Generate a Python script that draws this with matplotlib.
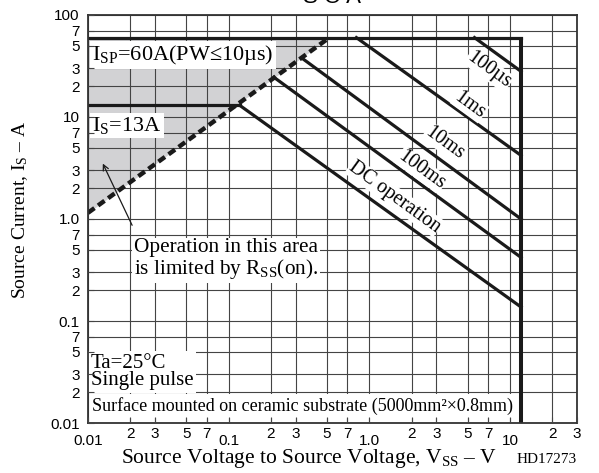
import matplotlib
matplotlib.use("Agg")
import matplotlib.pyplot as plt
from matplotlib.ticker import FixedLocator, FixedFormatter

plt.rcParams["font.family"] = ["Liberation Serif", "DejaVu Serif"]
plt.rcParams["mathtext.fontset"] = "custom"
plt.rcParams["mathtext.rm"] = "Liberation Serif"
plt.rcParams["mathtext.it"] = "Liberation Serif"

# axis ticks
x_major = [0.01, 0.1, 1.0, 10]
x_major_lbl = ["0.01", "0.1", "1.0", "10"]
x_minor = [0.02, 0.03, 0.05, 0.07, 0.2, 0.3, 0.5, 0.7,
           2, 3, 5, 7, 20, 30]
x_minor_lbl = ["2", "3", "5", "7"] * 3 + ["2", "3"]
y_major = [0.01, 0.1, 1.0, 10, 100]
y_major_lbl = ["0.01", "0.1", "1.0", "10", "100"]
y_minor = [0.02, 0.03, 0.05, 0.07, 0.2, 0.3, 0.5, 0.7,
           2, 3, 5, 7, 20, 30, 50, 70]
y_minor_lbl = ["2", "3", "5", "7"] * 4

# limits of the SOA
vss_max = 12
isp = 60
is_dc = 13
rds_v = [0.01, 0.52]
rds_i = [1.15, 60]

# pulse lines: start on the limit, end at vss_max
pulse_names = ["100µs", "1ms", "10ms", "100ms", "DC operation"]
pulse_v = [[5.6, 12], [0.81, 12], [0.33, 12], [0.21, 12], [0.12, 12]]
pulse_i = [[60, 28], [60, 4.2], [38, 1.0], [24.5, 0.42], [13, 0.137]]

fig = plt.figure(figsize=(5.99, 4.73), dpi=100)
ax = fig.add_axes([0.1469, 0.1057, 0.8164, 0.8626])
ax.set_xscale("log")
ax.set_yscale("log")
ax.set_xlim(0.01, 30)
ax.set_ylim(0.01, 100)

# grid (drawn by hand so the text boxes can hide it but not the ticks)
for v in x_major + x_minor:
    ax.axvline(v, color="#444444", lw=0.8, zorder=1.5)
for v in y_major + y_minor:
    ax.axhline(v, color="#444444", lw=0.8, zorder=1.5)

# area limited by RSS(on)
ax.fill_between(rds_v, rds_i, isp, color="#d2d2d4", lw=0, zorder=1)

lw = 2.3
ax.plot([0.01, vss_max], [isp, isp], color="#1a1a1a", lw=lw, zorder=2.1)
ax.plot([vss_max, vss_max], [0.01, isp], color="#1a1a1a", lw=lw + 0.6,
        zorder=2.1, solid_capstyle="butt")
ax.plot([0.01, pulse_v[-1][0]], [is_dc, is_dc], color="#1a1a1a", lw=lw,
        zorder=2.1)
ax.plot(rds_v, rds_i, color="#1a1a1a", lw=3.2, ls=(0, (1.8, 1.0)),
        zorder=2.1)
for v, i in zip(pulse_v, pulse_i):
    ax.plot(v, i, color="#1a1a1a", lw=lw, zorder=2.1)

# ticks
ax.xaxis.set_major_locator(FixedLocator(x_major))
ax.xaxis.set_major_formatter(FixedFormatter(x_major_lbl))
ax.xaxis.set_minor_locator(FixedLocator(x_minor))
ax.xaxis.set_minor_formatter(FixedFormatter(x_minor_lbl))
ax.yaxis.set_major_locator(FixedLocator(y_major))
ax.yaxis.set_major_formatter(FixedFormatter(y_major_lbl))
ax.yaxis.set_minor_locator(FixedLocator(y_minor))
ax.yaxis.set_minor_formatter(FixedFormatter(y_minor_lbl))
ax.set_axisbelow(False)
for a in [ax.xaxis, ax.yaxis]:
    for t in a.get_ticklabels(which="both"):
        t.set_family(["Liberation Sans", "DejaVu Sans"])
ax.tick_params(axis="x", which="major", direction="in", length=4,
               labelsize=11, pad=8, width=0.8, color="#444444")
ax.tick_params(axis="x", which="minor", direction="in", length=4,
               labelsize=11, pad=3, width=0.8, color="#444444")
ax.tick_params(axis="y", which="both", direction="in", length=4,
               labelsize=11, pad=6, width=0.8, color="#444444")
for s in ax.spines.values():
    s.set_linewidth(1.3)
    s.set_color("#333333")

box = dict(facecolor="white", edgecolor="none", pad=1.5)
ax.text(0.009, 0.902, "I$_{\\rm SP}$=60A(PW≤10µs)", transform=ax.transAxes,
        fontsize=16, va="center", ha="left", bbox=box, zorder=2.2)
ax.text(0.009, 0.728, "I$_{\\rm S}$=13A", transform=ax.transAxes,
        fontsize=16, va="center", ha="left", bbox=box, zorder=2.2)
ax.text(0.094, 0.40, "Operation in this area\nis limited by R$_{\\rm SS}$(on).",
        transform=ax.transAxes, fontsize=15.3, va="center", ha="left",
        linespacing=1.0, bbox=box, zorder=2.2)
ax.text(0.006, 0.125, "Ta=25°C\nSingle pulse", transform=ax.transAxes,
        fontsize=15, va="center", ha="left", linespacing=0.9,
        bbox=dict(facecolor="white", edgecolor="none", pad=2), zorder=2.2)
ax.text(0.009, 0.042, "Surface mounted on ceramic substrate (5000mm²×0.8mm)",
        transform=ax.transAxes, fontsize=13, va="center", ha="left",
        bbox=dict(facecolor="white", edgecolor="none", pad=2), zorder=2.2)
ax.annotate("", xy=(0.0125, 3.7), xytext=(0.021, 0.82),
            arrowprops=dict(arrowstyle="->", color="#1a1a1a", lw=0.9),
            zorder=2.2)

# labels along the lines
label_xy = [(7.08, 28.9), (5.18, 13.1), (3.43, 5.56), (2.35, 3.02), (1.51, 1.64)]
for name, (lx, ly) in zip(pulse_names, label_xy):
    ax.text(lx, ly, name, fontsize=14.5, rotation=-36, ha="center",
            va="center", rotation_mode="anchor",
            bbox=dict(facecolor="white", edgecolor="none", pad=0.5),
            zorder=2.2)

fig.text(0.033, 0.556, "Source Current, I$_{\\rm S}$ – A", fontsize=14,
         rotation=90, ha="center", va="center")
fig.text(0.516, 0.022, "Source Voltage to Source Voltage, V$_{\\rm SS}$ – V",
         fontsize=15.5, ha="center", va="baseline")
fig.text(0.963, 0.022, "HD17273", fontsize=11, ha="right", va="baseline")
fig.text(0.555, 0.994, "S O A", fontsize=16, ha="center", va="baseline",
         family=["Liberation Sans", "DejaVu Sans"])

fig.savefig("out.png", dpi=100)
